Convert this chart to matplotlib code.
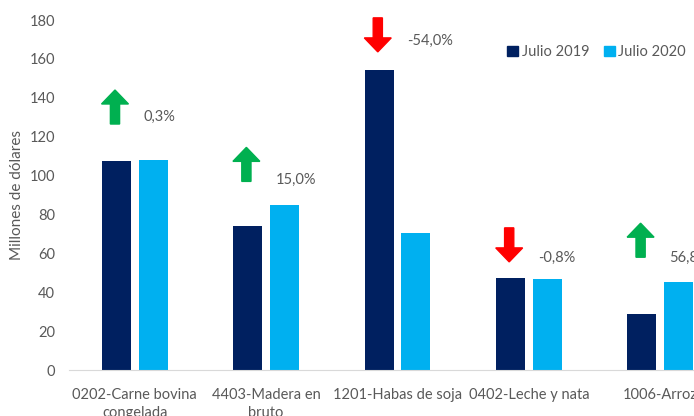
import matplotlib
matplotlib.use("Agg")
import matplotlib.pyplot as plt
from matplotlib.patches import Polygon
from matplotlib.patches import Patch
import numpy as np

plt.rcParams['font.family'] = ['Lato', 'DejaVu Sans']

categories = ["0202-Carne bovina\ncongelada", "4403-Madera en\nbruto", "1201-Habas de soja",
              "0402-Leche y nata", "1006-Arroz"]
julio_2019 = [107.5, 74.0, 154.3, 47.3, 28.8]
julio_2020 = [108.0, 85.0, 70.5, 46.8, 45.3]
variation = ["0,3%", "15,0%", "-54,0%", "-0,8%", "56,8%"]
# annotation placement: bottom of arrow (value units) and label height
arrow_base = [126.5, 97.0, 163.6, 55.6, 58.0]
label_y = [130, 98, 169, 57.6, 57.6]

DARK = "#002060"
LIGHT = "#00B0F0"
GRAY = "#595959"

fig = plt.figure(figsize=(6.94, 4.16), dpi=100)
# axes spills past the right edge, like the cropped original
ax = fig.add_axes([69 / 694, 1 - 370 / 416, 657 / 694, 350 / 416])

x = np.arange(len(categories))
w, off = 0.22, 0.14
ax.bar(x - off, julio_2019, w, color=DARK, label="Julio 2019")
ax.bar(x + off, julio_2020, w, color=LIGHT, label="Julio 2020")

ax.set_xlim(-0.5, 4.5)
ax.set_ylim(0, 180)
ax.set_yticks(range(0, 181, 20))
ax.set_xticks(x)
ax.set_xticklabels(categories, fontsize=10.5, color=GRAY, linespacing=1.35)
ax.tick_params(axis="both", length=0, colors=GRAY, labelsize=10.5)
ax.tick_params(axis="x", pad=13)
ax.tick_params(axis="y", pad=10)
for s in ["top", "right", "left"]:
    ax.spines[s].set_visible(False)
ax.spines["bottom"].set_color("#D9D9D9")
ax.set_ylabel("Millones de dólares", fontsize=11, color=GRAY, labelpad=4)

# arrows
aw, sw, ah, hh = 0.205, 0.07, 17.5, 7.2
for i, v in enumerate(variation):
    cx = x[i] - off - 0.01
    b = arrow_base[i]
    if v.startswith("-"):
        t, top = b, b + ah
        pts = [(cx - sw / 2, top), (cx + sw / 2, top), (cx + sw / 2, t + hh),
               (cx + aw / 2, t + hh), (cx, t), (cx - aw / 2, t + hh), (cx - sw / 2, t + hh)]
        col = "#FF0000"
    else:
        top = b + ah
        pts = [(cx - sw / 2, b), (cx + sw / 2, b), (cx + sw / 2, top - hh),
               (cx + aw / 2, top - hh), (cx, top), (cx - aw / 2, top - hh), (cx - sw / 2, top - hh)]
        col = "#00B050"
    ax.add_patch(Polygon(pts, closed=True, color=col, clip_on=False))
    ax.text(x[i] + 0.07, label_y[i], v, fontsize=10.5, color=GRAY, va="center", ha="left")

handles = [Patch(color=DARK), Patch(color=LIGHT)]
fig.legend(handles, ["Julio 2019", "Julio 2020"], loc="center left",
           bbox_to_anchor=(507 / 694, 1 - 52 / 416), ncol=2, frameon=False,
           fontsize=10.5, labelcolor=GRAY, handlelength=0.75, handleheight=0.75,
           handletextpad=0.25, columnspacing=1.0, borderpad=0.0, borderaxespad=0.0)

fig.savefig("out.png", dpi=100)
